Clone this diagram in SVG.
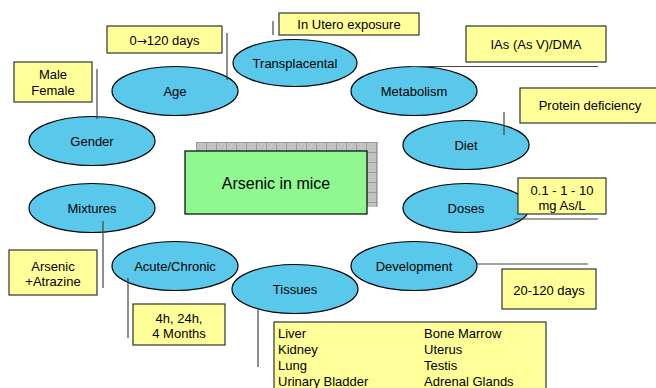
<svg xmlns="http://www.w3.org/2000/svg" width="656" height="388" viewBox="0 0 656 388">
<defs>
<pattern id="hatch" width="10" height="10" patternUnits="userSpaceOnUse" x="196" y="142">
<rect width="10" height="10" fill="#c4c4c4"/>
<path d="M0 0.5H10M0.5 0V10" stroke="#9a9a9a" stroke-width="1"/>
<path d="M3 3h1v1h-1zM6 6h1v1h-1zM3 7h1v1h-1zM7 3h1v1h-1z" fill="#aaa"/>
</pattern>
</defs>
<style>
.n ellipse{fill:#5ac8ea;stroke:#000;stroke-width:1.2}
.b rect{fill:#ffff99;stroke:#333;stroke-width:1.2}
text{font-family:"Liberation Sans",Arial,sans-serif;font-size:13px;fill:#000}
.c text{text-anchor:middle}
.n text{text-anchor:middle}
#connectors line{stroke:#444;stroke-width:1.2}
</style>
<g id="center" class="c">
<rect x="196" y="142" width="182" height="65" fill="url(#hatch)"/>
<rect x="185" y="151" width="182" height="63" fill="#90f890" stroke="#000" stroke-width="1.2"/>
<text x="276" y="189" style="font-size:16px">Arsenic in mice</text>
</g>
<g id="node-age" class="n"><ellipse cx="175" cy="91" rx="63" ry="24.5"/><text x="175" y="96">Age</text></g>
<g id="node-transplacental" class="n"><ellipse cx="295" cy="63" rx="62" ry="23.5"/><text x="295" y="68">Transplacental</text></g>
<g id="node-metabolism" class="n"><ellipse cx="414" cy="91" rx="63" ry="24.5"/><text x="414" y="96">Metabolism</text></g>
<g id="node-diet" class="n"><ellipse cx="466" cy="145" rx="63" ry="24.5"/><text x="466" y="150">Diet</text></g>
<g id="node-gender" class="n"><ellipse cx="92" cy="141" rx="63" ry="24.5"/><text x="92" y="146">Gender</text></g>
<g id="node-mixtures" class="n"><ellipse cx="92" cy="208" rx="63" ry="24.5"/><text x="92" y="213">Mixtures</text></g>
<g id="node-acute" class="n"><ellipse cx="175" cy="266" rx="63" ry="24.5"/><text x="175" y="271">Acute/Chronic</text></g>
<g id="node-tissues" class="n"><ellipse cx="295" cy="289" rx="63" ry="24.5"/><text x="295" y="294">Tissues</text></g>
<g id="node-doses" class="n"><ellipse cx="466" cy="208" rx="63" ry="24.5"/><text x="466" y="213">Doses</text></g>
<g id="node-development" class="n"><ellipse cx="414" cy="266" rx="63" ry="24.5"/><text x="414" y="271">Development</text></g>
<g id="connectors">
<line x1="227" y1="33" x2="227" y2="80"/>
<line x1="97" y1="69" x2="97" y2="119"/>
<line x1="273" y1="21" x2="273" y2="35"/>
<line x1="410" y1="66.5" x2="598" y2="66.5"/>
<line x1="504" y1="112" x2="504" y2="135"/>
<line x1="514" y1="219" x2="598" y2="219"/>
<line x1="477" y1="264" x2="588" y2="264"/>
<line x1="103" y1="221" x2="103" y2="288"/>
<line x1="128" y1="278" x2="128" y2="338"/>
<line x1="258" y1="308" x2="258" y2="367"/>
</g>
<g id="box-age" class="b c"><rect x="107" y="26" width="115" height="27"/><text x="164.5" y="45">0<tspan style="font-family:'DejaVu Sans',sans-serif;font-size:12px">→</tspan>120 days</text></g>
<g id="box-gender" class="b c"><rect x="14" y="62" width="78" height="40"/><text x="53" y="79">Male</text><text x="53" y="95">Female</text></g>
<g id="box-transplacental" class="b c"><rect x="279" y="13" width="140" height="22"/><text x="349" y="29">In Utero exposure</text></g>
<g id="box-metabolism" class="b c"><rect x="466" y="26" width="140" height="36"/><text x="536" y="49">IAs (As V)/DMA</text></g>
<g id="box-diet" class="b c"><rect x="520" y="88" width="140" height="35"/><text x="590" y="110">Protein deficiency</text></g>
<g id="box-doses" class="b c"><rect x="518" y="178" width="88" height="36"/><text x="562" y="195">0.1 - 1 - 10</text><text x="562" y="210">mg As/L</text></g>
<g id="box-development" class="b c"><rect x="502" y="269" width="94" height="40"/><text x="549" y="295">20-120 days</text></g>
<g id="box-mixtures" class="b c"><rect x="9" y="250" width="88" height="45"/><text x="53" y="271">Arsenic</text><text x="53" y="286">+Atrazine</text></g>
<g id="box-acute" class="b c"><rect x="133" y="304" width="92" height="41"/><text x="179" y="323">4h, 24h,</text><text x="179" y="338">4 Months</text></g>
<g id="box-tissues" class="b"><rect x="274" y="322" width="272" height="72"/>
<text x="278" y="338">Liver</text><text x="278" y="354">Kidney</text><text x="278" y="370">Lung</text><text x="278" y="386">Urinary Bladder</text>
<text x="424" y="338">Bone Marrow</text><text x="424" y="354">Uterus</text><text x="424" y="370">Testis</text><text x="424" y="386">Adrenal Glands</text>
</g>
</svg>
